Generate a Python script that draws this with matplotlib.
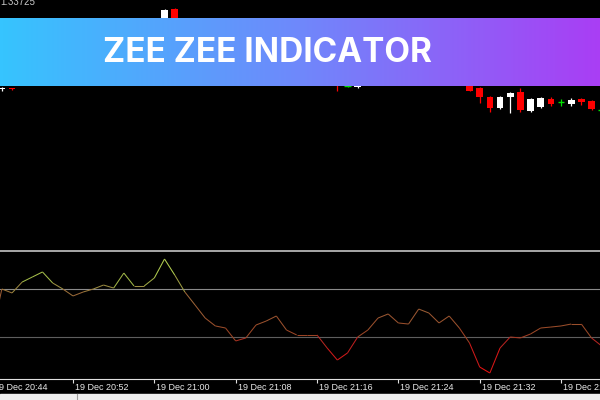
import numpy as np
import matplotlib
matplotlib.use("Agg")
import matplotlib.pyplot as plt
from matplotlib.collections import LineCollection
from matplotlib.colors import LinearSegmentedColormap
from matplotlib.patches import Rectangle

# ---------------- data ----------------
# indicator (one value per 1-minute bar, minute 0 = 19 Dec 20:44)
ind_minutes = list(range(0, 61))
ind_values = [30.8, 70, 66.7, 75.8, 80, 84.2, 75, 70, 64.2, 67.5, 70, 73.3, 70.8,
              83.3, 72.5, 72.5, 79.2, 95, 81.7, 67.5, 56.7, 45.8, 39.2, 37.5, 26.7,
              29.2, 40, 43.3, 47.5, 35.8, 31.7, 31.7, 31.7, 20.8, 10.8, 16.7, 30,
              35.8, 45.8, 49.2, 41.7, 40.8, 53.3, 50, 41.7, 47.5, 37.5, 25, 5, 0,
              20.8, 30, 29.2, 32.5, 37.5, 38.3, 39.2, 40.8, 40.8, 29.2, 22.5]
levels = [70, 30]

# visible candles
candle_minutes = [1, 2, 17, 18, 34, 35, 36, 47, 48, 49, 50, 51, 52, 53, 54, 55, 56, 57, 58, 59, 60]
opens  = [1.33651, 1.33652, 1.33715, 1.33731, 1.33665, 1.33654, 1.33653, 1.33660, 1.33652, 1.33643,
          1.33632, 1.33643, 1.33648, 1.33629, 1.33633, 1.33641, 1.33638, 1.33636, 1.33641, 1.33639, 1.33630]
highs  = [1.33653, 1.33652, 1.33731, 1.33732, 1.33670, 1.33656, 1.33675, 1.33665, 1.33653, 1.33644,
          1.33644, 1.33648, 1.33652, 1.33642, 1.33643, 1.33643, 1.33641, 1.33642, 1.33642, 1.33640, 1.33631]
lows   = [1.33649, 1.33650, 1.33710, 1.33712, 1.33649, 1.33653, 1.33652, 1.33649, 1.33637, 1.33628,
          1.33631, 1.33627, 1.33628, 1.33628, 1.33632, 1.33634, 1.33634, 1.33634, 1.33635, 1.33630, 1.33629]
closes = [1.33652, 1.33651, 1.33730, 1.33715, 1.33655, 1.33654, 1.33670, 1.33649, 1.33643, 1.33632,
          1.33643, 1.33647, 1.33630, 1.33641, 1.33642, 1.33636, 1.33638, 1.33640, 1.33638, 1.33631, 1.33630]

tick_minutes = [0, 8, 16, 24, 32, 40, 48, 56]
tick_labels = ["19 Dec 20:44", "19 Dec 20:52", "19 Dec 21:00", "19 Dec 21:08",
               "19 Dec 21:16", "19 Dec 21:24", "19 Dec 21:32", "19 Dec 21:40"]
price_label = "1.33725"
title = "ZEE ZEE INDICATOR"

# ---------------- figure ----------------
W, H = 600, 400
fig = plt.figure(figsize=(6, 4), dpi=100, facecolor="black")
xlim = (0.819, 0.819 + 600 / 10.167)

def fy(ypx):
    return 1 - ypx / H

# main chart
ax = fig.add_axes([0, fy(248), 1, 248 / H], facecolor="black")
ax.set_xlim(*xlim)
ax.set_ylim(1.33740 - 0.00248, 1.33740)
ax.set_axis_off()
bw = 0.66
for m, o, h, l, c in zip(candle_minutes, opens, highs, lows, closes):
    if abs(c - o) < 1e-9:
        col = "#00e000"
    elif c > o:
        col = "#ffffff"
    else:
        col = "#ff0000"
    ax.vlines(m, l, h, color=col, linewidth=0.9)
    if abs(c - o) < 1e-9:
        ax.hlines(o, m - bw / 2, m + bw / 2, color=col, linewidth=1.0)
    else:
        ax.bar(m, abs(c - o), bottom=min(o, c), width=bw, color=col, linewidth=0)

fig.text(0.0, fy(2), price_label, color="#c8c8c8", fontsize=7, va="center", ha="left",
         family="Liberation Sans")

# indicator window
axi = fig.add_axes([0, fy(379), 1, 128 / H], facecolor="black")
axi.set_xlim(*xlim)
v_top = 70 + (289 - 251) / 1.2
v_bot = 70 - (379 - 289) / 1.2
axi.set_ylim(v_bot, v_top)
axi.axhline(levels[0], color="#8a8a8a", linewidth=0.8)
axi.axhline(levels[1], color="#5e5e5e", linewidth=0.8)

cmap = LinearSegmentedColormap.from_list("zz", [
    (0.0, "#f01010"), (0.25, "#b82020"), (0.32, "#9a4424"), (0.5, "#9a5a34"),
    (0.66, "#9a6838"), (0.72, "#9a8a40"), (0.78, "#a0b848"), (1.0, "#c8e858")])
pts = np.column_stack([ind_minutes, ind_values])
segs = np.stack([pts[:-1], pts[1:]], axis=1)
mids = (np.array(ind_values[:-1]) + np.array(ind_values[1:])) / 2
lc = LineCollection(segs, colors=cmap(np.clip(mids / 100, 0, 1)), linewidth=0.75)
axi.add_collection(lc)

for s in ["top", "left", "right"]:
    axi.spines[s].set_visible(False)
axi.spines["bottom"].set_color("#e0e0e0")
axi.spines["bottom"].set_linewidth(0.8)
axi.set_yticks([])
axi.set_xticks([t for t in tick_minutes if xlim[0] <= t <= xlim[1]])
axi.tick_params(axis="x", direction="out", length=3, color="#e0e0e0", width=0.8,
                labelbottom=False)
for t, lab in zip(tick_minutes, tick_labels):
    axi.annotate(lab, xy=(t, 0), xycoords=("data", "axes fraction"),
                 xytext=(2, -8), textcoords="offset pixels", ha="left", va="center",
                 color="#e8e8e8", fontsize=6.5, family="Liberation Sans",
                 annotation_clip=False)

# separator line at top of indicator window
fig.add_artist(plt.Line2D([0, 1], [fy(250.5), fy(250.5)], color="#a8a8a8", linewidth=1.4))

# bottom tab strip
fig.add_artist(Rectangle((0, 0), 1, 6 / H, transform=fig.transFigure, color="#f0f0f0", zorder=5))
fig.add_artist(plt.Line2D([77 / W, 77 / W], [0, 6 / H], color="#a0a0a0", linewidth=0.8, zorder=6))

# banner
axb = fig.add_axes([0, fy(86), 1, 68 / H])
grad_cmap = LinearSegmentedColormap.from_list("bn", ["#36c4fe", "#6f88fb", "#a93ef4"])
axb.imshow(np.linspace(0, 1, 600).reshape(1, -1), cmap=grad_cmap, aspect="auto",
           extent=[0, 1, 0, 1])
axb.set_axis_off()
fig.text(103 / W, fy(61.5), title, color="white", fontsize=24, fontweight="bold",
         family="Inter", ha="left", va="baseline", zorder=10)

fig.savefig("out.png", dpi=100, facecolor="black")
